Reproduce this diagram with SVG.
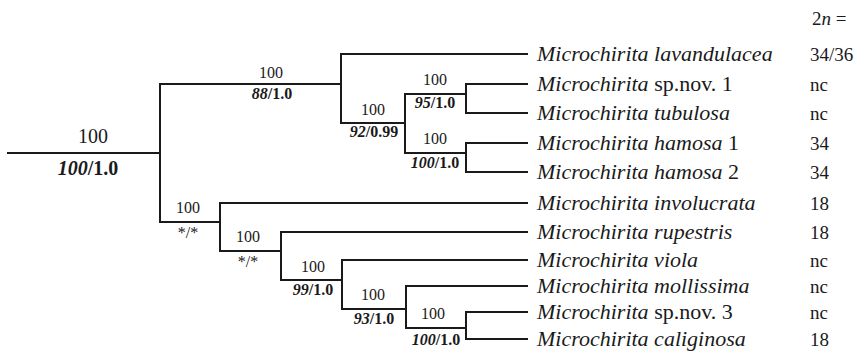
<svg xmlns="http://www.w3.org/2000/svg" width="865" height="351" viewBox="0 0 865 351">
<style>
.br{fill:none;stroke:#1a1a1a;stroke-width:2;stroke-linecap:square}
.sp{font-family:"Liberation Serif","Times New Roman",serif;font-size:22px;fill:#1a1a1a}
.it{font-style:italic}
.num{font-family:"Liberation Serif","Times New Roman",serif;font-size:19px;fill:#1a1a1a}
.bs{font-family:"Liberation Serif","Times New Roman",serif;font-size:16px;fill:#1a1a1a;text-anchor:middle}
.bb{font-weight:bold}
.root{font-size:20px}
</style>
<rect width="865" height="351" fill="#fff"/>
<g id="connectors">
<path class="br" d="M8,153H160M160,84V222"/>
<path class="br" d="M160,84H341M341,54V123M341,54H527"/>
<path class="br" d="M341,123H405M405,94V153"/>
<path class="br" d="M405,94H466M466,84V113M466,84H527M466,113H527"/>
<path class="br" d="M405,153H466M466,143V172M466,143H527M466,172H527"/>
<path class="br" d="M160,222H220M220,203V251M220,203H527"/>
<path class="br" d="M220,251H281M281,232V280M281,232H527"/>
<path class="br" d="M281,280H342M342,260V309M342,260H527"/>
<path class="br" d="M342,309H406M406,286V328M406,286H527"/>
<path class="br" d="M406,328H466M466,312V339M466,312H527M466,339H527"/>
</g>
<g id="support-labels">
<g id="n-root"><text class="bs root" x="93" y="143">100</text><text class="bs root bb" x="88" y="175"><tspan class="it">100</tspan>/1.0</text></g>
<g id="n-b"><text class="bs" x="271" y="78">100</text><text class="bs bb" x="272" y="99"><tspan class="it">88</tspan>/1.0</text></g>
<g id="n-c"><text class="bs" x="373" y="115">100</text><text class="bs bb" x="374" y="137"><tspan class="it">92</tspan>/0.99</text></g>
<g id="n-d"><text class="bs" x="435" y="85">100</text><text class="bs bb" x="435" y="108"><tspan class="it">95</tspan>/1.0</text></g>
<g id="n-e"><text class="bs" x="435" y="144">100</text><text class="bs bb" x="435" y="168"><tspan class="it">100</tspan>/1.0</text></g>
<g id="n-f"><text class="bs" x="188" y="213">100</text><text class="bs" x="188" y="238">*/*</text></g>
<g id="n-g"><text class="bs" x="248" y="242">100</text><text class="bs" x="248" y="267">*/*</text></g>
<g id="n-h"><text class="bs" x="313" y="272">100</text><text class="bs bb" x="313" y="295"><tspan class="it">99</tspan>/1.0</text></g>
<g id="n-i"><text class="bs" x="373" y="300">100</text><text class="bs bb" x="374" y="324"><tspan class="it">93</tspan>/1.0</text></g>
<g id="n-j"><text class="bs" x="433" y="319">100</text><text class="bs bb" x="436" y="345"><tspan class="it">100</tspan>/1.0</text></g>
</g>
<g id="taxa">
<g id="t1"><text class="sp it" x="537" y="61">Microchirita lavandulacea</text><text class="num" x="810" y="61">34/36</text></g>
<g id="t2"><text class="sp" x="537" y="91"><tspan class="it">Microchirita</tspan> sp.nov. 1</text><text class="num" x="810" y="91">nc</text></g>
<g id="t3"><text class="sp it" x="537" y="120">Microchirita tubulosa</text><text class="num" x="810" y="120">nc</text></g>
<g id="t4"><text class="sp" x="537" y="150"><tspan class="it">Microchirita hamosa</tspan> 1</text><text class="num" x="810" y="150">34</text></g>
<g id="t5"><text class="sp" x="537" y="179"><tspan class="it">Microchirita hamosa</tspan> 2</text><text class="num" x="810" y="179">34</text></g>
<g id="t6"><text class="sp it" x="537" y="210">Microchirita involucrata</text><text class="num" x="810" y="210">18</text></g>
<g id="t7"><text class="sp it" x="537" y="239">Microchirita rupestris</text><text class="num" x="810" y="239">18</text></g>
<g id="t8"><text class="sp it" x="537" y="267">Microchirita viola</text><text class="num" x="810" y="267">nc</text></g>
<g id="t9"><text class="sp it" x="537" y="293">Microchirita mollissima</text><text class="num" x="810" y="293">nc</text></g>
<g id="t10"><text class="sp" x="537" y="319"><tspan class="it">Microchirita</tspan> sp.nov. 3</text><text class="num" x="810" y="319">nc</text></g>
<g id="t11"><text class="sp it" x="537" y="346">Microchirita caliginosa</text><text class="num" x="810" y="346">18</text></g>
<text class="num" x="812" y="25">2<tspan font-style="italic">n</tspan> =</text>
</g>
</svg>
